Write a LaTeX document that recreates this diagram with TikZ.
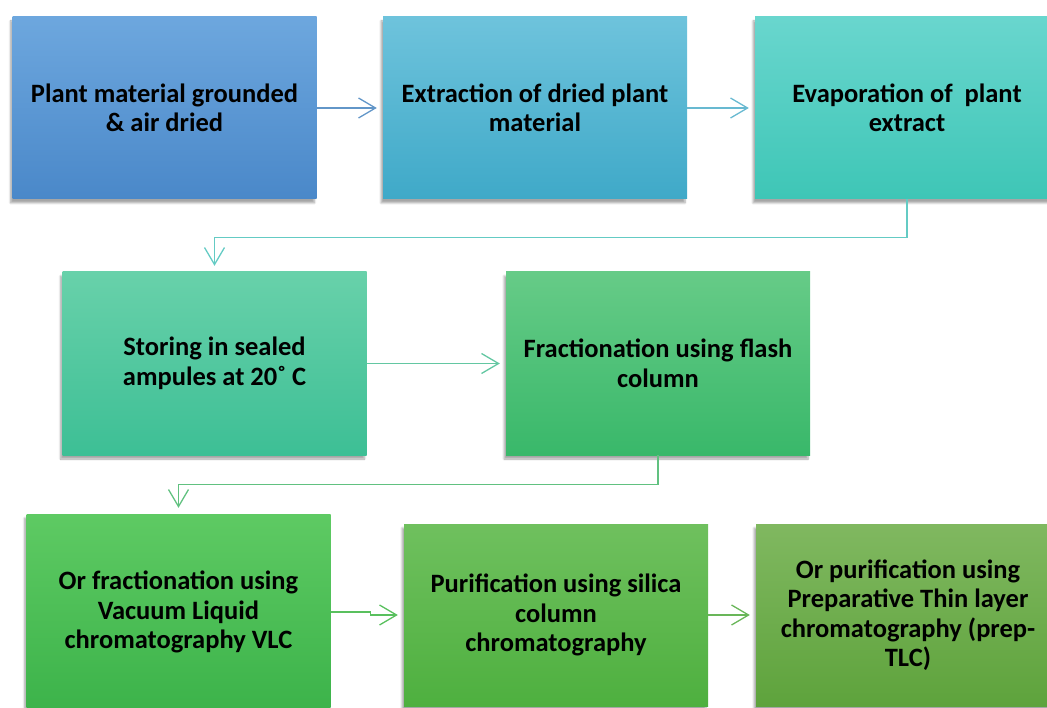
\documentclass[tikz,border=0pt]{standalone}
\usepackage{fontspec}
\setmainfont{Carlito}
\usetikzlibrary{positioning,arrows.meta,shadows.blur}
\definecolor{blueA}{HTML}{6DA7DE}
\definecolor{blueB}{HTML}{4A88C9}
\definecolor{cyanA}{HTML}{6EC3DC}
\definecolor{cyanB}{HTML}{3FA9C8}
\definecolor{tealA}{HTML}{69D6CE}
\definecolor{tealB}{HTML}{3EC6B6}
\definecolor{mintA}{HTML}{68D1AA}
\definecolor{mintB}{HTML}{3DBF95}
\definecolor{jadeA}{HTML}{66CB87}
\definecolor{jadeB}{HTML}{39B86A}
\definecolor{leafA}{HTML}{5ECA63}
\definecolor{leafB}{HTML}{3CB34A}
\definecolor{grassA}{HTML}{6FC05E}
\definecolor{grassB}{HTML}{4EB03F}
\definecolor{oliveA}{HTML}{80B860}
\definecolor{oliveB}{HTML}{5EA33C}

\begin{document}
\begin{tikzpicture}[
    x=1pt, y=-1pt,
    >={Straight Barb[length=17pt,width=20pt]},
    every node/.style={font=\fontsize{26.5}{29.5}\selectfont\bfseries},
    stepbox/.style={minimum width=304pt, minimum height=182pt, inner sep=0pt, align=center,
        blur shadow={shadow xshift=-2pt, shadow yshift=-4pt, shadow opacity=35, shadow blur steps=6}},
    shade/.style 2 args={top color=#1, bottom color=#2},
    flowarrow/.style={->, line width=1.3pt, shorten >=6pt},
]
\clip (0,0) rectangle (1047,708);

% ---- Row 1 ----
\node[stepbox, shade={blueA}{blueB}] (ground) at (164.5,108) {Plant material grounded\\\& air dried};
\node[stepbox, shade={cyanA}{cyanB}] (extract) at (535,108) {Extraction of dried plant\\material};
\node[stepbox, shade={tealA}{tealB}] (evap) at (907,108) {Evaporation of\ \ plant\\extract};

\draw[flowarrow, color=blueA!90!black] (ground) -- (extract);
\draw[flowarrow, color=cyanA!95!black] (extract) -- (evap);

% ---- Row 2 ----
\node[stepbox, minimum height=183pt, shade={mintA}{mintB}] (store) at (214.5,363.5) {Storing in sealed\\ampules at 20˚ C};
\node[stepbox, minimum height=183pt, shade={jadeA}{jadeB}] (flash) at (658,363.5) {Fractionation using flash\\column};

\draw[flowarrow, color=tealA!95!black] (evap.south) -- ++(0,38) -| (store.north);
\draw[flowarrow, color=mintA!95!black] (store) -- (flash);

% ---- Row 3 ----
\node[stepbox, minimum height=196pt, shade={leafA}{leafB}] (vlc) at (178.5,612) {Or fractionation using\\Vacuum Liquid\\chromatography VLC};
\node[stepbox, shade={grassA}{grassB}] (silica) at (556,615) {Purification using silica\\column\\chromatography};
\node[stepbox, shade={oliveA}{oliveB}] (prep) at (908,615) {Or purification using\\Preparative Thin layer\\chromatography (prep-\\TLC)};

\draw[flowarrow, color=jadeA!95!black] (flash.south) -- ++(0,29) -| (vlc.north);
\draw[flowarrow, color=leafA!95!black] (vlc.east) -- ++(40,0) |- (silica.west);
\draw[flowarrow, color=grassA!95!black] (silica) -- (prep);

\end{tikzpicture}
\end{document}
